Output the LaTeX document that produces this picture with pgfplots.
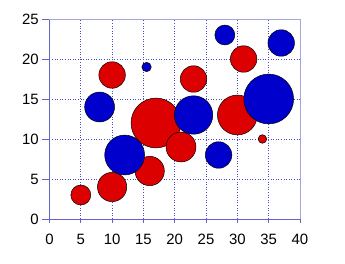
\documentclass[border=0pt]{standalone}
\usepackage{fontspec}
\setmainfont{Liberation Sans}
\usepackage{pgfplots}
\pgfplotsset{compat=1.18}
\usetikzlibrary{calc}
\definecolor{bred}{RGB}{221,0,0}
\definecolor{bblue}{RGB}{0,0,204}
\definecolor{axdark}{RGB}{100,100,205}
\definecolor{axlight}{RGB}{165,165,225}
\definecolor{gridc}{RGB}{75,75,205}
\begin{document}
\begin{tikzpicture}
\begin{axis}[
  scale only axis,
  width=250.5bp, height=200bp,
  xmin=0, xmax=40, ymin=0, ymax=25,
  xtick={0,5,...,40}, ytick={0,5,...,25},
  axis x line*=bottom, axis y line*=left,
  x axis line style={-, draw=axdark, line width=0.8pt},
  y axis line style={-, draw=axdark, line width=0.8pt},
  tick style={draw=axdark, line width=0.8pt},
  tick align=outside,
  xtick style={/pgfplots/major tick length=4bp},
  ytick style={/pgfplots/major tick length=7bp},
  grid=major,
  major grid style={dash pattern=on 1bp off 1.6bp, draw=gridc, line width=0.8pt},
  ticklabel style={font=\fontsize{15}{16}\selectfont},
  /pgf/number format/assume math mode=true,
  xticklabel style={yshift=-7bp},
  yticklabel style={xshift=-3bp},
  clip=false,
]
\addplot[draw=axlight, line width=0.8pt] coordinates {(0,25) (40,25) (40,0)};
\addplot[scatter, only marks, mark=*,
  mark options={fill=bred, draw=black, line width=0.5pt},
  visualization depends on={\thisrow{r} \as \rad},
  scatter/use mapped color={draw=black, fill=bred},
  scatter/@pre marker code/.append style={/tikz/mark size=\rad}]
  table[x=x, y=y] {
  x y r
  5 3 10
  10 4 14.7
  10 18 13.3
  16 6 14.7
  17 12 25
  21 9 15
  23 17.5 13.3
  30 13 20
  31 20 13.3
  34 10 4.3
  };
\addplot[scatter, only marks, mark=*,
  mark options={fill=bblue, draw=black, line width=0.5pt},
  visualization depends on={\thisrow{r} \as \rad},
  scatter/use mapped color={draw=black, fill=bblue},
  scatter/@pre marker code/.append style={/tikz/mark size=\rad}]
  table[x=x, y=y] {
  x y r
  8 14 15
  12 8 20
  15.5 19 4.7
  23 13 19.3
  27 8 13.3
  28 23 10
  35 15 25
  37 22 13.3
  };
\coordinate (O) at (rel axis cs:0,0);
\end{axis}
\useasboundingbox ($(O)+(-49.5bp,-45bp)$) rectangle ++(345bp,264bp);
\end{tikzpicture}
\end{document}
